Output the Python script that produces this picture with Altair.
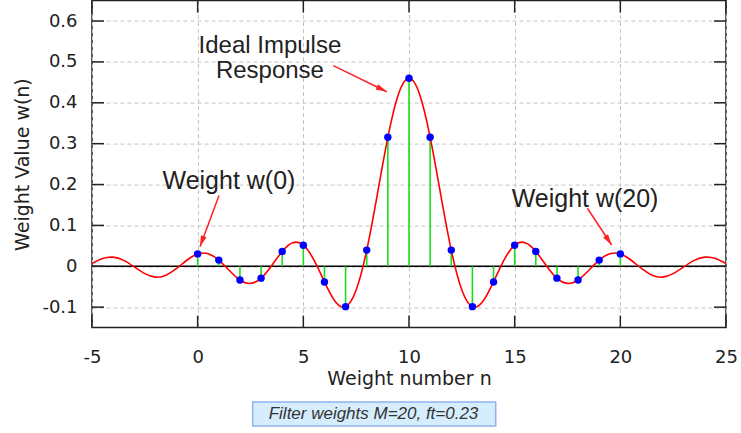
import altair as alt
import pandas as pd

# ---------------- data ----------------
curve_n = [i / 2 for i in range(-10, 51)]  # sampling grid -5 .. 25, step 0.5
curve_w = [
    0.0066, 0.0189, 0.0223, 0.0145, -0.0015, -0.0180, -0.0265, -0.0219, -0.0054, 0.0154,
    0.0303, 0.0307, 0.0151, -0.0104, -0.0336, -0.0419, -0.0290, 0.0015, 0.0363, 0.0576,
    0.0515, 0.0154, -0.0383, -0.0856, -0.0987, -0.0578, 0.0396, 0.1755, 0.3158, 0.4210,
    0.4600,
    0.4210, 0.3158, 0.1755, 0.0396, -0.0578, -0.0987, -0.0856, -0.0383, 0.0154, 0.0515,
    0.0576, 0.0363, 0.0015, -0.0290, -0.0419, -0.0336, -0.0104, 0.0151, 0.0307, 0.0303,
    0.0154, -0.0054, -0.0219, -0.0265, -0.0180, -0.0015, 0.0145, 0.0223, 0.0189, 0.0066,
]
weight_n = list(range(21))
weight_w = [0.0303, 0.0151, -0.0336, -0.0290, 0.0363, 0.0515, -0.0383, -0.0987, 0.0396, 0.3158,
            0.4600, 0.3158, 0.0396, -0.0987, -0.0383, 0.0515, 0.0363, -0.0290, -0.0336, 0.0151,
            0.0303]

x_ticks = [-5, 0, 5, 10, 15, 20, 25]
y_ticks = [-0.1, 0, 0.1, 0.2, 0.3, 0.4, 0.5, 0.6]

x_title = "Weight number n"
y_title = "Weight Value w(n)"
caption = "Filter weights M=20, ft=0.23"

label_text = ["Ideal Impulse", "Response", "Weight w(0)", "Weight w(20)"]
label_n = [3.42, 3.42, 1.48, 18.33]
label_w = [0.522, 0.460, 0.188, 0.146]
label_size = [24, 24, 25, 25]

arrow_n = [6.42, 1.01, 18.44]
arrow_w = [0.491, 0.173, 0.142]
arrow_tip_n = [8.95, 0.11, 19.59]
arrow_tip_w = [0.427, 0.048, 0.052]
arrow_angle = [116, 200, 146]

# ---------------- layout ----------------
W, H = 634, 327
xs = alt.Scale(domain=[-5, 25], nice=False, zero=False)
ys = alt.Scale(domain=[-0.15, 0.65], nice=False, zero=False)
INK = "#222222"

x_axis = alt.Axis(values=x_ticks, grid=True, gridDash=[4, 3], gridColor="#c4c4c4", gridWidth=1,
                  ticks=False, tickSize=0, domain=False, labelExpr="'' + datum.value",
                  labelFlush=False, labelOverlap=False,
                  labelFont="DejaVu Sans", labelFontSize=18, labelColor=INK, labelPadding=21,
                  title=x_title, titleFont="DejaVu Sans", titleFontSize=19, titleFontWeight="normal",
                  titleColor=INK, titleBaseline="alphabetic", titleY=57)
y_axis = alt.Axis(values=y_ticks, grid=True, gridDash=[4, 3], gridColor="#c4c4c4", gridWidth=1,
                  ticks=False, tickSize=0, domain=False, labelExpr="'' + datum.value",
                  labelFlush=False, labelOverlap=False,
                  labelFont="DejaVu Sans", labelFontSize=18, labelColor=INK, labelPadding=15,
                  title=y_title, titleFont="DejaVu Sans", titleFontSize=19, titleFontWeight="normal",
                  titleColor=INK, titleBaseline="alphabetic", titleX=-64)

curve_df = pd.DataFrame({"n": curve_n, "w": curve_w})
weights_df = pd.DataFrame({"n": weight_n, "w": weight_w, "z": [0] * len(weight_n)})
xt_df = pd.DataFrame({"n": x_ticks})
yt_df = pd.DataFrame({"w": y_ticks})
zero_df = pd.DataFrame({"w": [0]})
label_df = pd.DataFrame({"n": label_n, "w": label_w, "t": label_text, "s": label_size})
arrow_df = pd.DataFrame({"n": arrow_n, "w": arrow_w, "n2": arrow_tip_n, "w2": arrow_tip_w})
head_df = pd.DataFrame({"n": arrow_tip_n, "w": arrow_tip_w, "a": arrow_angle})
cap_df = pd.DataFrame({"t": [caption]})

X = lambda f: alt.X(f"{f}:Q", scale=xs, axis=x_axis)
Y = lambda f: alt.Y(f"{f}:Q", scale=ys, axis=y_axis)

zero_line = alt.Chart(zero_df).mark_rule(color="#000000", strokeWidth=1.5).encode(
    y=Y("w"), x=alt.value(0), x2=alt.value(W))

stems = alt.Chart(weights_df).mark_rule(color="#18e018", strokeWidth=1.6).encode(
    x=X("n"), y=Y("w"), y2=alt.Y2("z"))

curve = alt.Chart(curve_df).mark_line(color="#ff0000", strokeWidth=1.6, interpolate="natural").encode(
    x=X("n"), y=Y("w"))

dots = alt.Chart(weights_df).mark_circle(color="#0000ff", size=55, opacity=1).encode(
    x=X("n"), y=Y("w"))

tick_style = dict(color=INK, strokeWidth=1.5)
ticks_bottom = alt.Chart(xt_df).mark_rule(**tick_style).encode(x=X("n"), y=alt.value(H), y2=alt.value(H - 12))
ticks_top = alt.Chart(xt_df).mark_rule(**tick_style).encode(x=X("n"), y=alt.value(0), y2=alt.value(12))
ticks_left = alt.Chart(yt_df).mark_rule(**tick_style).encode(y=Y("w"), x=alt.value(0), x2=alt.value(12))
ticks_right = alt.Chart(yt_df).mark_rule(**tick_style).encode(y=Y("w"), x=alt.value(W), x2=alt.value(W - 12))

labels = alt.Chart(label_df).mark_text(font="Liberation Sans", color=INK,
                                       baseline="alphabetic", align="center").encode(
    x=X("n"), y=Y("w"), text="t:N", size=alt.Size("s:Q", scale=None))

arrows = alt.Chart(arrow_df).mark_rule(color="#ff2020", strokeWidth=1.5).encode(
    x=X("n"), y=Y("w"), x2=alt.X2("n2"), y2=alt.Y2("w2"))

heads = alt.Chart(head_df).mark_point(shape="M0,0L0.6,2.2L-0.6,2.2Z", filled=True, color="#ff2020",
                                      size=100, opacity=1).encode(
    x=X("n"), y=Y("w"), angle=alt.Angle("a:Q", scale=None))

cap_box = alt.Chart(cap_df).mark_rect(fill="#d6edfd", stroke="#8fb3ee", strokeWidth=1.5).encode(
    x=alt.value(160.7), x2=alt.value(403.7), y=alt.value(401.4), y2=alt.value(425.4))
cap_text = alt.Chart(cap_df).mark_text(font="Liberation Sans", fontSize=17, fontStyle="italic",
                                       color="#333333", baseline="middle", align="center").encode(
    x=alt.value(281.5), y=alt.value(413.8), text="t:N")

chart = alt.layer(
    zero_line, stems, curve, dots,
    ticks_bottom, ticks_top, ticks_left, ticks_right,
    arrows, heads, labels, cap_box, cap_text,
).properties(
    width=W, height=H,
    padding={"left": 92, "top": 0.6, "right": 15, "bottom": 105},
    autosize=alt.AutoSizeParams(type="none"),
    background="white",
).configure_view(stroke=INK, strokeWidth=1.5)

chart.save("out.html", embed_options={"renderer": "svg", "actions": False})
